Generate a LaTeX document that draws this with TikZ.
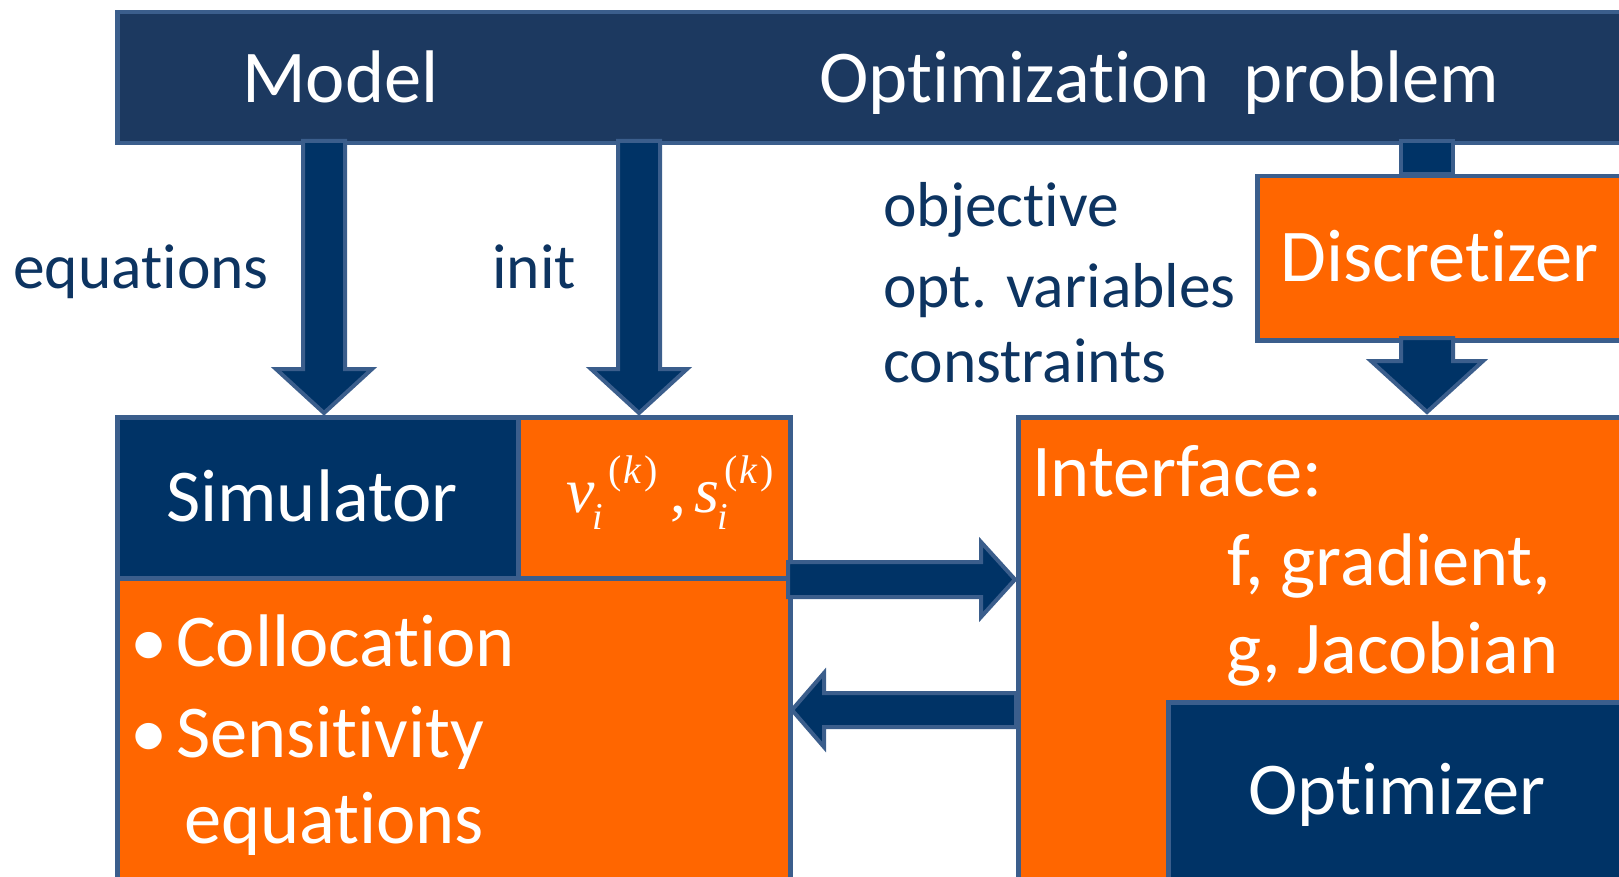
\documentclass[tikz,border=0pt]{standalone}
\usepackage{fontspec}
\setmainfont{Carlito}[Ligatures={NoCommon}]
\newfontfamily\tms{Liberation Serif}
\usetikzlibrary{calc}

\definecolor{navy}{HTML}{003366}
\definecolor{barnavy}{HTML}{1C3960}
\definecolor{edge}{HTML}{3B5E8C}
\definecolor{orng}{HTML}{FF6600}
\definecolor{labelc}{HTML}{0D3461}

\tikzset{
  box/.style={draw=edge, line width=4.5pt, inner sep=0pt, anchor=north west},
  blockarrow/.style={fill=navy, draw=edge, line width=4pt, line join=miter},
  big/.style={font=\fontsize{74.5}{89}\selectfont, text=white, inner sep=0pt, anchor=base west},
  lab/.style={font=\fontsize{63.5}{76}\selectfont, text=labelc, inner sep=0pt, anchor=base west},
  mth/.style={text=white, inner sep=0pt, anchor=base west}
}

% block arrow pointing down from #1 to #2: shaft half width, head half width, head length
\newcommand\downblock[5]{%
  \filldraw[blockarrow] let \p1=(#1), \p2=(#2) in
    (\x1-#3pt,\y1) -- (\x1-#3pt,\y2+#5pt) -- (\x1-#4pt,\y2+#5pt) -- (\x2,\y2)
    -- (\x1+#4pt,\y2+#5pt) -- (\x1+#3pt,\y2+#5pt) -- (\x1+#3pt,\y1) -- cycle;}
% block arrow pointing right
\newcommand\rightblock[5]{%
  \filldraw[blockarrow] let \p1=(#1), \p2=(#2) in
    (\x1,\y1+#3pt) -- (\x2-#5pt,\y1+#3pt) -- (\x2-#5pt,\y1+#4pt) -- (\x2,\y2)
    -- (\x2-#5pt,\y1-#4pt) -- (\x2-#5pt,\y1-#3pt) -- (\x1,\y1-#3pt) -- cycle;}
% block arrow pointing left
\newcommand\leftblock[5]{%
  \filldraw[blockarrow] let \p1=(#1), \p2=(#2) in
    (\x1,\y1+#3pt) -- (\x2+#5pt,\y1+#3pt) -- (\x2+#5pt,\y1+#4pt) -- (\x2,\y2)
    -- (\x2+#5pt,\y1-#4pt) -- (\x2+#5pt,\y1-#3pt) -- (\x1,\y1-#3pt) -- cycle;}

\begin{document}
\begin{tikzpicture}[x=1pt,y=-1pt]
\useasboundingbox (0,0) rectangle (1619,877);
\clip (0,0) rectangle (1619,877);

% header bar
\node[box, fill=barnavy, minimum width=1535pt, minimum height=131pt] (bar) at (115,10) {};

% link from header to discretizer
\coordinate (dtop) at (1427,141);
\coordinate (dbot) at (1427,174);
\filldraw[blockarrow] ($(dtop)+(-26,0)$) rectangle ($(dbot)+(26,0)$);

% discretizer
\node[box, fill=orng, minimum width=400pt, minimum height=164pt] (disc) at (1255,174) {};

% arrow tails and tips
\coordinate (eqA) at (324,141);  \coordinate (eqB) at (324,413);
\coordinate (inA) at (639,141);  \coordinate (inB) at (639,413);
\coordinate (dcA) at (1427,338); \coordinate (dcB) at (1427,412);
\downblock{eqA}{eqB}{21}{48}{44}
\downblock{inA}{inB}{21}{48}{44}
\downblock{dcA}{dcB}{26}{56}{51}

% simulator side
\node[box, fill=navy, minimum width=401pt, minimum height=161pt] (sim) at (115,415) {};
\node[box, fill=orng, minimum width=272pt, minimum height=161pt] (vs) at (516,415) {};
\node[box, fill=orng, minimum width=673pt, minimum height=330pt] (coll) at (115,576) {};

% optimizer side
\node[box, fill=orng, minimum width=640pt, minimum height=490pt] (iface) at (1016,415) {};
\node[box, fill=navy, minimum width=490pt, minimum height=200pt] (opt) at (1166,700) {};

% exchange arrows
\coordinate (rA) at (788,579.5);  \coordinate (rB) at (1015,579.5);
\coordinate (lA) at (1016,710);   \coordinate (lB) at (792,710);
\rightblock{rA}{rB}{17.5}{37.5}{34}
\leftblock{lA}{lB}{17}{37}{32}

% texts
\node[big] (tmodel) at (242,103) {Model};
\node[big] (toptp) at (819,103) {Optimization\ \ problem};
\node[lab] (teq) at (13,289) {equations};
\node[lab] (tinit) at (492,289) {init};
\node[lab] (tobj) at (883,227) {objective};
\node[lab] (tvar) at (883,307) {opt. variables};
\node[lab] (tcon) at (883,382) {constraints};
\node[big] (tdisc) at (1280,281) {Discretizer};
\node[big] (tsim) at (166,521) {Simulator};
\node[big] (b1) at (130,666) {•};
\node[big] (tcoll) at (176,666) {Collocation};
\node[big] (b2) at (130,757) {•};
\node[big] (tsens) at (176,757) {Sensitivity};
\node[big] (tsens2) at (184,843) {equations};
\node[big] (tif) at (1032,496) {Interface:};
\node[big] (tfg) at (1227,585) {f, gradient,};
\node[big] (tgj) at (1226,673) {g, Jacobian};
\node[big] (topt) at (1248,814) {Optimizer};

% v_i^(k), s_i^(k)
\node[mth] (vsym) at (566,512) {\tms\itshape\fontsize{64}{64}\selectfont v};
\node[mth] (vsub) at (592,529) {\tms\itshape\fontsize{38}{38}\selectfont i};
\node[mth] (vsup) at (608,483) {\tms\fontsize{40}{40}\selectfont (\kern2pt\textit{k}\kern3pt)};
\node[mth] (cm) at (670,512) {\tms\fontsize{63}{63}\selectfont ,};
\node[mth] (ssym) at (694,512) {\tms\itshape\fontsize{64}{64}\selectfont s};
\node[mth] (ssub) at (717,529) {\tms\itshape\fontsize{38}{38}\selectfont i};
\node[mth] (ssup) at (724,483) {\tms\fontsize{40}{40}\selectfont (\kern2pt\textit{k}\kern3pt)};
\end{tikzpicture}
\end{document}
